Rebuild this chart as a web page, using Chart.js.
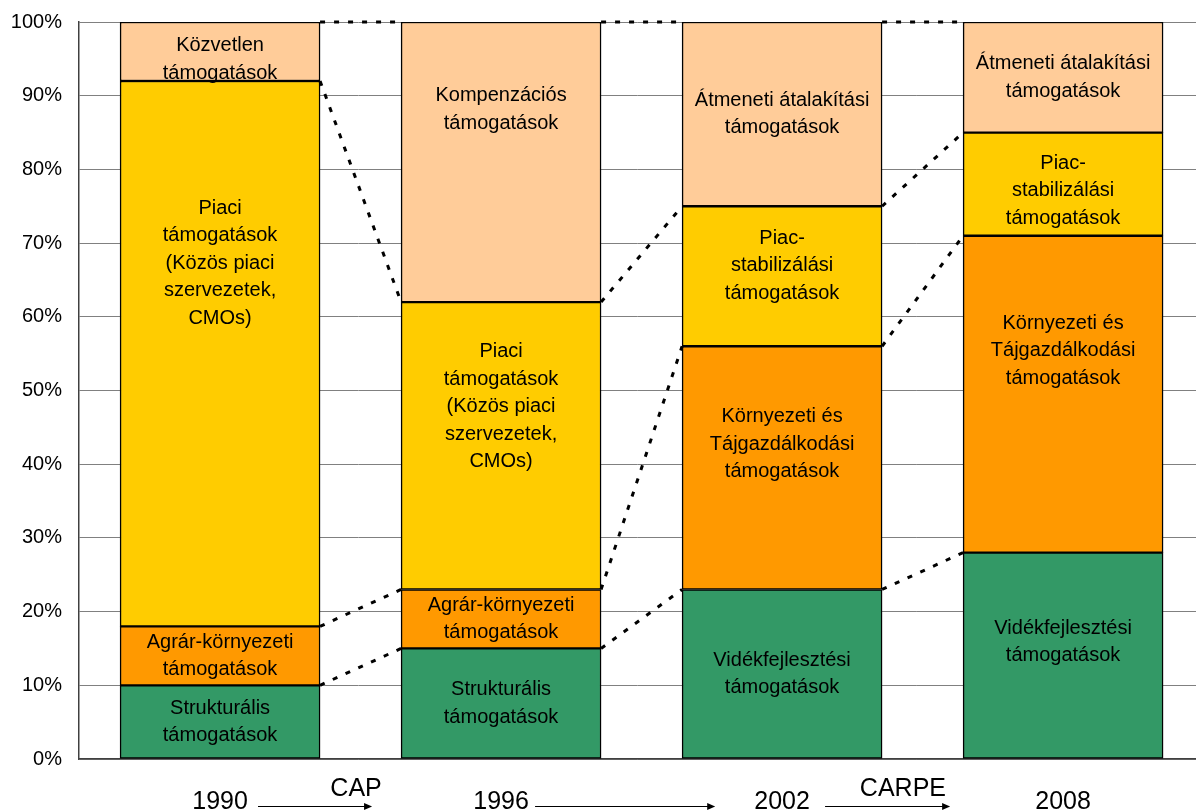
<!DOCTYPE html>
<html>
<head>
<meta charset="utf-8">
<script src="https://cdn.jsdelivr.net/npm/chart.js@4/dist/chart.umd.min.js"></script>
<style>
  html, body { margin: 0; padding: 0; background: #fff; }
  #wrap { width: 1196px; height: 811px; }
</style>
</head>
<body>
<div id="wrap"><canvas id="chart"></canvas></div>
<script>
// =========================
// Data
// =========================

const years = ["1990", "1996", "2002", "2008"];

// shares in % (stack levels, bottom to top)
const level1 = [10, 15, 23, 28];   // green
const level2 = [8, 8, 33, 43];     // orange
const level3 = [74, 39, 19, 14];   // yellow
const level4 = [8, 38, 25, 15];    // peach

const level1Text = [
    ["Strukturális", "támogatások"],
    ["Strukturális", "támogatások"],
    ["Vidékfejlesztési", "támogatások"],
    ["Vidékfejlesztési", "támogatások"]
];
const level2Text = [
    ["Agrár-környezeti", "támogatások"],
    ["Agrár-környezeti", "támogatások"],
    ["Környezeti és", "Tájgazdálkodási", "támogatások"],
    ["Környezeti és", "Tájgazdálkodási", "támogatások"]
];
const level3Text = [
    ["Piaci", "támogatások", "(Közös piaci", "szervezetek,", "CMOs)"],
    ["Piaci", "támogatások", "(Közös piaci", "szervezetek,", "CMOs)"],
    ["Piac-", "stabilizálási", "támogatások"],
    ["Piac-", "stabilizálási", "támogatások"]
];
const level4Text = [
    ["Közvetlen", "támogatások"],
    ["Kompenzációs", "támogatások"],
    ["Átmeneti átalakítási", "támogatások"],
    ["Átmeneti átalakítási", "támogatások"]
];

const periodLabels = ["CAP", "", "CARPE"];

// =========================
// Helpers
// =========================

const FONT = '"Liberation Sans", Arial, sans-serif';

function toPoints(values) {
    return values.map((v, i) => ({ x: i, y: v }));
}

// label centres (in %) where the original text box is not centred in its segment
const labelAt = [
    [null, null, null, 15.9],
    [null, null, 42.7, 55.4],
    [67.3, 47.8, 66.9, 77.1],
    [94.9, 88.1, null, null]
];

// arrow placement along the x axis (offsets from the left year, in category units)
const arrowSpans = [
    { a: 0.135, b: 0.541, t: 0.484 },
    { a: 0.121, b: 0.762, t: 0.44 },
    { a: 0.153, b: 0.598, t: 0.43 }
];

// =========================
// Plugins
// =========================

const segmentPlugin = {
    id: "segments",
    afterDatasetsDraw(chart) {
        const ctx = chart.ctx;
        const yScale = chart.scales.y;
        const metas = chart.data.datasets.map((d, i) => chart.getDatasetMeta(i));

        // dotted connectors between stack boundaries
        ctx.save();
        ctx.strokeStyle = "#000";
        ctx.lineWidth = 3;
        ctx.setLineDash([5, 9]);
        for (let i = 0; i < years.length - 1; i++) {
            metas.forEach(meta => {
                const a = meta.data[i], b = meta.data[i + 1];
                ctx.beginPath();
                ctx.moveTo(a.x + a.width / 2, a.y);
                ctx.lineTo(b.x - b.width / 2, b.y);
                ctx.stroke();
            });
        }
        ctx.restore();

        // segment texts
        ctx.save();
        ctx.fillStyle = "#000";
        ctx.font = "20px " + FONT;
        ctx.textAlign = "center";
        ctx.textBaseline = "middle";
        const lineH = 27.5;
        chart.data.datasets.forEach((ds, d) => {
            metas[d].data.forEach((el, i) => {
                const lines = ds.texts[i];
                const fixed = labelAt[d][i];
                const cy = fixed == null ? (el.y + el.base) / 2 : yScale.getPixelForValue(fixed);
                const top = cy - (lines.length - 1) * lineH / 2;
                lines.forEach((t, k) => ctx.fillText(t, el.x, top + k * lineH));
            });
        });
        ctx.restore();
    },
    afterDraw(chart) {
        const ctx = chart.ctx;
        const xScale = chart.scales.x;
        const ay = 806;
        ctx.save();
        ctx.strokeStyle = "#000";
        ctx.fillStyle = "#000";
        ctx.lineWidth = 1;
        ctx.font = "25px " + FONT;
        ctx.textAlign = "center";
        ctx.textBaseline = "middle";
        periodLabels.forEach((label, i) => {
            const s = arrowSpans[i];
            const x1 = xScale.getPixelForValue(i + s.a);
            const x2 = xScale.getPixelForValue(i + s.b);
            ctx.beginPath();
            ctx.moveTo(x1, ay + 0.5);
            ctx.lineTo(x2 - 6, ay + 0.5);
            ctx.stroke();
            ctx.beginPath();
            ctx.moveTo(x2, ay + 0.5);
            ctx.lineTo(x2 - 8, ay - 3);
            ctx.lineTo(x2 - 8, ay + 4);
            ctx.closePath();
            ctx.fill();
            if (label) {
                ctx.fillText(label, xScale.getPixelForValue(i + s.t), 789);
            }
        });
        ctx.restore();
    }
};

// =========================
// Chart
// =========================

function makeDataset(values, texts, color) {
    return {
        data: toPoints(values),
        texts: texts,
        backgroundColor: color,
        borderColor: "#000",
        borderWidth: 1.5,
        borderSkipped: false,
        barThickness: 200
    };
}

new Chart(document.getElementById("chart"), {
    type: "bar",
    data: {
        datasets: [
            makeDataset(level1, level1Text, "#339966"),
            makeDataset(level2, level2Text, "#FF9900"),
            makeDataset(level3, level3Text, "#FFCC00"),
            makeDataset(level4, level4Text, "#FFCC99")
        ]
    },
    options: {
        responsive: true,
        maintainAspectRatio: false,
        animation: false,
        layout: { padding: { top: 22, left: 0, right: 0, bottom: 0 } },
        plugins: {
            legend: { display: false },
            tooltip: { enabled: false }
        },
        scales: {
            x: {
                type: "linear",
                stacked: true,
                offset: false,
                min: -0.502,
                max: 3.473,
                afterBuildTicks: axis => { axis.ticks = years.map((y, i) => ({ value: i })); },
                afterFit: axis => { axis.height = 52; },
                grid: { display: false, drawTicks: false },
                border: { display: true, color: "#404040", width: 1.5 },
                ticks: {
                    color: "#000",
                    padding: 31,
                    maxRotation: 0,
                    font: { family: FONT, size: 25, lineHeight: 1 },
                    callback: v => years[v] ?? ""
                }
            },
            y: {
                stacked: true,
                min: 0,
                max: 100,
                afterFit: axis => {
                    axis.width = 79;
                    axis.paddingTop = 0;
                    axis.paddingBottom = 0;
                },
                grid: { color: "#808080", lineWidth: 1, drawTicks: false },
                border: { display: true, color: "#404040", width: 1.5 },
                ticks: {
                    stepSize: 10,
                    color: "#000",
                    padding: 17,
                    font: { family: FONT, size: 20 },
                    callback: v => v + "%"
                }
            }
        }
    },
    plugins: [segmentPlugin]
});
</script>
</body>
</html>
